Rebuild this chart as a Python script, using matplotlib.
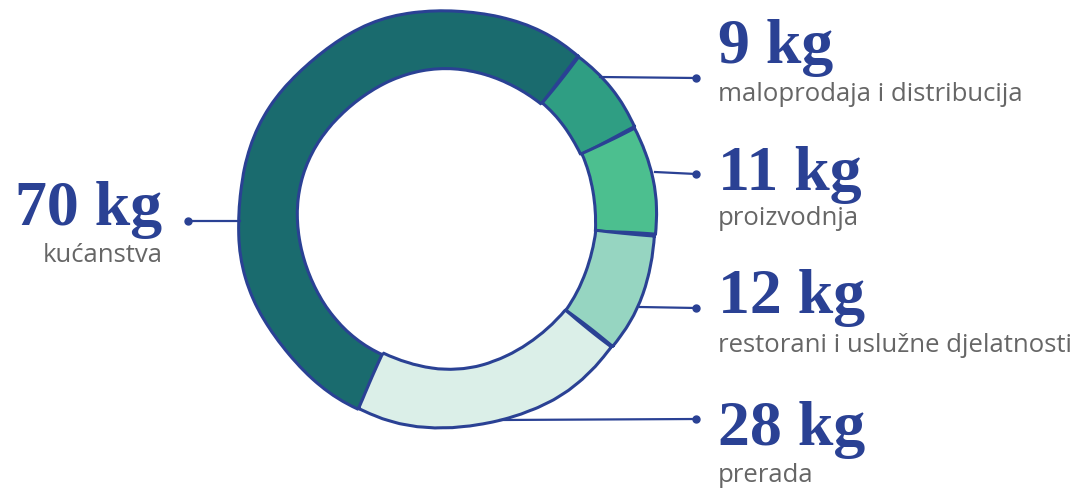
import matplotlib.pyplot as plt

# podaci
kategorije = ['kućanstva', 'maloprodaja i distribucija', 'proizvodnja',
              'restorani i uslužne djelatnosti', 'prerada']
vrijednosti = [70, 9, 11, 12, 28]
boje = ['#1a6b6e', '#2f9e83', '#4cbf8f', '#96d5c1', '#dbefe8']

plava = '#2a4194'
siva = '#666666'

fig = plt.figure(figsize=(10.9, 4.88), dpi=100)
ax = fig.add_axes([0, 0, 1, 1])

H = 488
cx, cy, r = 447, H - 219, 209

klinovi, _ = ax.pie(vrijednosti, colors=boje, startangle=244.8, counterclock=False,
                    center=(cx, cy), radius=r,
                    wedgeprops=dict(width=r * 0.285, edgecolor=plava, linewidth=2.2))
for k in klinovi:
    k.set_sketch_params(scale=1.0, length=180, randomness=2)

ax.set_xlim(0, 1090)
ax.set_ylim(0, H)
ax.set_aspect('equal')
ax.axis('off')

# lijeva oznaka
ax.plot([188, 240], [H - 221, H - 221], color=plava, lw=1.6)
ax.plot(188, H - 221, 'o', color=plava, ms=5)
ax.text(162, H - 225, f'{vrijednosti[0]} kg', ha='right', va='baseline',
        fontsize=46, fontweight='bold', family='Liberation Serif', color=plava)
ax.text(163, H - 262, kategorije[0], ha='right', va='baseline',
        fontsize=18.5, family='Open Sans', color=siva)

# desne oznake
linije = [(600, 77, 78), (655, 172, 174), (640, 307, 308), (500, 420, 419)]
brojevi_y = [63, 190, 313, 445]
opisi_y = [101, 225, 352, 482]
for i in range(1, 5):
    x0, y0, y1 = linije[i - 1]
    ax.plot([x0, 696], [H - y0, H - y1], color=plava, lw=1.6)
    ax.plot(696, H - y1, 'o', color=plava, ms=5)
    ax.text(718, H - brojevi_y[i - 1], f'{vrijednosti[i]} kg', ha='left', va='baseline',
            fontsize=46, fontweight='bold', family='Liberation Serif', color=plava)
    ax.text(718, H - opisi_y[i - 1], kategorije[i], ha='left', va='baseline',
            fontsize=18.5, family='Open Sans', color=siva)

fig.savefig('out.png', dpi=100)
